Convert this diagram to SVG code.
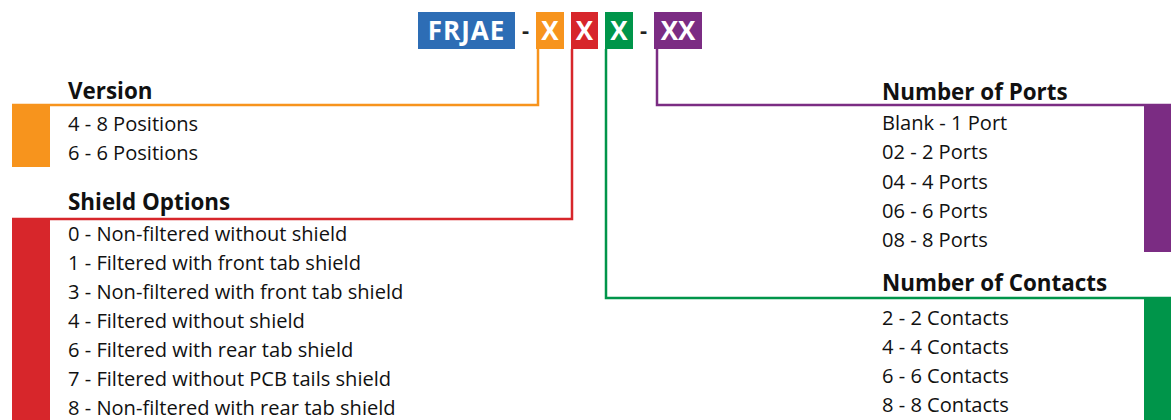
<svg xmlns="http://www.w3.org/2000/svg" width="1171" height="420" viewBox="0 0 1171 420">
<style>
.h{font-family:"Open Sans","Liberation Sans",sans-serif;font-weight:bold;font-size:22.4px;fill:#111}
.t{font-family:"Open Sans","Liberation Sans",sans-serif;font-size:20.1px;fill:#111}
.c{font-family:"Open Sans","Liberation Sans",sans-serif;font-weight:bold;font-size:26px;fill:#fff;text-anchor:middle}
.d{font-family:"Open Sans","Liberation Sans",sans-serif;font-weight:bold;font-size:22px;fill:#222;text-anchor:middle}
.ln{fill:none;stroke-width:2.5}
</style>
<rect width="1171" height="420" fill="#fff"/>
<g id="code">
<g id="frjae"><rect x="418" y="12" width="97" height="37" fill="#2D6DB5"/><text class="c" x="466.5" y="40" letter-spacing="1">FRJAE</text></g>
<text class="d" x="525.5" y="38">-</text>
<g id="xver"><rect x="536" y="12" width="28" height="37" fill="#F7941D"/><text class="c" x="550" y="40">X</text></g>
<g id="xshield"><rect x="571" y="12" width="27" height="37" fill="#D7262B"/><text class="c" x="584.5" y="40">X</text></g>
<g id="xcontacts"><rect x="605" y="12" width="28" height="37" fill="#00954A"/><text class="c" x="619" y="40">X</text></g>
<text class="d" x="643.5" y="38">-</text>
<g id="xxports"><rect x="654" y="12" width="48" height="37" fill="#7B2C83"/><text class="c" x="678" y="40">XX</text></g>
</g>
<g id="connectors">
<polyline class="ln" stroke="#F7941D" points="538,49 538,105 12,105"/>
<polyline class="ln" stroke="#D7262B" points="572,49 572,219 12,219"/>
<polyline class="ln" stroke="#00954A" points="606,49 606,298 1171,298"/>
<polyline class="ln" stroke="#7B2C83" points="657,49 657,105 1171,105"/>
</g>
<g id="version">
<rect x="12" y="105" width="38" height="62" fill="#F7941D"/>
<text class="h" x="68" y="99">Version</text>
<text class="t" x="68" y="131">4 - 8 Positions</text>
<text class="t" x="68" y="160">6 - 6 Positions</text>
</g>
<g id="shield">
<rect x="12" y="219" width="38" height="201" fill="#D7262B"/>
<text class="h" x="68" y="210">Shield Options</text>
<text class="t" x="68" y="241">0 - Non-filtered without shield</text>
<text class="t" x="68" y="270">1 - Filtered with front tab shield</text>
<text class="t" x="68" y="299">3 - Non-filtered with front tab shield</text>
<text class="t" x="68" y="328">4 - Filtered without shield</text>
<text class="t" x="68" y="357">6 - Filtered with rear tab shield</text>
<text class="t" x="68" y="386">7 - Filtered without PCB tails shield</text>
<text class="t" x="68" y="415">8 - Non-filtered with rear tab shield</text>
</g>
<g id="ports">
<rect x="1144" y="106" width="27" height="146" fill="#7B2C83"/>
<text class="h" x="882" y="100">Number of Ports</text>
<text class="t" x="882" y="130">Blank - 1 Port</text>
<text class="t" x="882" y="159">02 - 2 Ports</text>
<text class="t" x="882" y="189">04 - 4 Ports</text>
<text class="t" x="882" y="218">06 - 6 Ports</text>
<text class="t" x="882" y="247">08 - 8 Ports</text>
</g>
<g id="contacts">
<rect x="1144" y="299" width="27" height="121" fill="#00954A"/>
<text class="h" x="882" y="291">Number of Contacts</text>
<text class="t" x="882" y="325">2 - 2 Contacts</text>
<text class="t" x="882" y="354">4 - 4 Contacts</text>
<text class="t" x="882" y="383">6 - 6 Contacts</text>
<text class="t" x="882" y="412">8 - 8 Contacts</text>
</g>
</svg>
